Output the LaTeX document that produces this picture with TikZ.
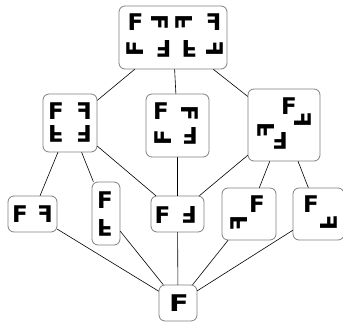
\documentclass[tikz,border=0pt]{standalone}
\usepackage{fontspec}
\newfontfamily\glyphfont{DejaVu Sans}

\tikzset{
  grp/.style={draw=gray, line width=0.8pt, rounded corners=6pt, fill=white, inner sep=0pt},
  ff/.style={inner sep=0pt, font=\glyphfont\bfseries\fontsize{23}{23}\selectfont},
  mir/.style={ff, xscale=-1},
  flp/.style={ff, yscale=-1},
  rhalf/.style={ff, rotate=180},
  rccw/.style={ff, rotate=90},
  rcw/.style={ff, rotate=-90},
  dgone/.style={ff, xscale=-1, rotate=-90},
  dgtwo/.style={ff, xscale=-1, rotate=90}
}

\begin{document}
\begin{tikzpicture}[x=1pt,y=-1pt,line cap=round,line join=round]
	\useasboundingbox (0,0) rectangle (343,325);
	% subgroups
	\node[grp, minimum width=108pt, minimum height=63pt] (all) at (173,37.5) {};
	\node[grp, minimum width=54pt, minimum height=58pt] (klein) at (70,123) {};
	\node[grp, minimum width=63pt, minimum height=63pt] (rot) at (177.5,125.5) {};
	\node[grp, minimum width=72pt, minimum height=72pt] (diag) at (284,125) {};
	\node[grp, minimum width=49pt, minimum height=36pt] (hor) at (32.5,214) {};
	\node[grp, minimum width=28pt, minimum height=63pt] (ver) at (106,213.5) {};
	\node[grp, minimum width=53pt, minimum height=36pt] (half) at (177.5,214) {};
	\node[grp, minimum width=54pt, minimum height=52pt] (dia) at (249,214) {};
	\node[grp, minimum width=51pt, minimum height=52pt] (dib) at (318.5,214) {};
	\node[grp, minimum width=38pt, minimum height=36pt] (triv) at (178,303) {};
	% inclusions
	\draw [line width=0.6pt] (all) -- (klein);
	\draw [line width=0.6pt] (all) -- (rot);
	\draw [line width=0.6pt] (all) -- (diag);
	\draw [line width=0.6pt] (klein) -- (hor);
	\draw [line width=0.6pt] (klein) -- (ver);
	\draw [line width=0.6pt] (klein) -- (half);
	\draw [line width=0.6pt] (rot) -- (half);
	\draw [line width=0.6pt] (diag) -- (half);
	\draw [line width=0.6pt] (diag) -- (dia);
	\draw [line width=0.6pt] (diag) -- (dib);
	\foreach \s in {hor,ver,half,dia,dib}
		\draw [line width=0.6pt] (triv) -- (\s);
	% whole group
	\node[ff] (a1) at (135.5,22) {F};
	\node[rcw] (a2) at (160,22) {F};
	\node[dgone] (a3) at (184.5,22) {F};
	\node[mir] (a4) at (213.5,22) {F};
	\node[rccw] (a5) at (135.5,49) {F};
	\node[rhalf] (a6) at (163.5,49) {F};
	\node[flp] (a7) at (189.5,49) {F};
	\node[dgtwo] (a8) at (215,49) {F};
	% klein group
	\node[ff] (k1) at (56,111.5) {F};
	\node[mir] (k2) at (84,111.5) {F};
	\node[flp] (k3) at (56,133.5) {F};
	\node[rhalf] (k4) at (84,133.5) {F};
	% rotations
	\node[ff] (r1) at (161,111) {F};
	\node[rcw] (r2) at (190,113) {F};
	\node[rccw] (r3) at (163,138) {F};
	\node[rhalf] (r4) at (190,136) {F};
	% diagonals
	\node[ff] (g1) at (289,106) {F};
	\node[dgtwo] (g2) at (303,120) {F};
	\node[dgone] (g3) at (266,130) {F};
	\node[rhalf] (g4) at (280,141) {F};
	% order two
	\node[ff] (h1) at (20,214) {F};
	\node[mir] (h2) at (45,214) {F};
	\node[ff] (v1) at (105,200) {F};
	\node[flp] (v2) at (105,228) {F};
	\node[ff] (c1) at (162.5,215) {F};
	\node[rhalf] (c2) at (189,215) {F};
	\node[ff] (p1) at (257,204) {F};
	\node[dgone] (p2) at (239,223) {F};
	\node[ff] (q1) at (311,204) {F};
	\node[dgtwo] (q2) at (329,223) {F};
	% trivial
	\node[ff, xscale=1.25] (t1) at (179,303.5) {F};
\end{tikzpicture}
\end{document}
